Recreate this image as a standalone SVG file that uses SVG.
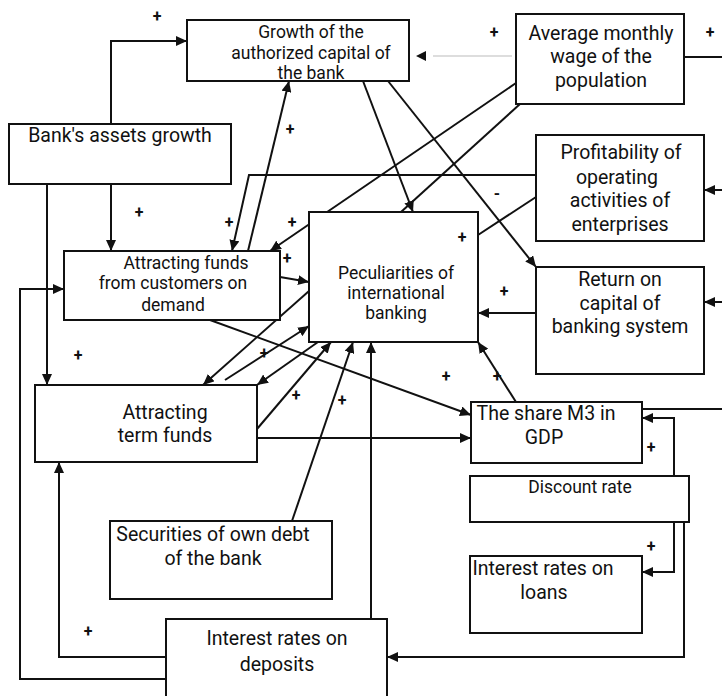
<svg xmlns="http://www.w3.org/2000/svg" width="722" height="696" viewBox="0 0 722 696">
<style>
.box{fill:#fff;stroke:#111;stroke-width:2}
.t{font-family:Roboto,"Liberation Sans",sans-serif;fill:#111;text-anchor:middle}
.l{font-size:19.5px}
.m{font-size:17.5px}
.c{fill:none;stroke:#111;stroke-width:2}
.a{marker-end:url(#ah)}
.sg{font-family:Roboto,"Liberation Sans",sans-serif;font-size:16px;font-weight:bold;fill:#111;text-anchor:middle}
</style>
<defs>
<marker id="ah" markerUnits="userSpaceOnUse" markerWidth="12" markerHeight="10" refX="11" refY="5" orient="auto">
<path d="M0,0 L11,5 L0,10 Z" fill="#111"/>
</marker>
</defs>
<rect width="722" height="696" fill="#fff"/>
<g id="connectors">
<path class="c a" d="M111,124 V41 H187"/>
<path class="c a" d="M111,184 V251"/>
<path class="c a" d="M47,184 V385"/>
<path class="c a" d="M248,251 L289,81"/>
<path class="c a" d="M536,175 H249 L232,251"/>
<path class="c a" d="M516,83 L270,251"/>
<path class="c" d="M520,104 L401,212"/>
<path class="c a" d="M363,81 L413,212"/>
<path class="c a" d="M388,81 L536,267"/>
<path class="c" d="M536,197 L478,235"/>
<path class="c a" d="M536,313 H478"/>
<path class="c a" d="M516,402 L478,342"/>
<path class="c a" d="M210,320 L471,415"/>
<path class="c a" d="M257,438 H471"/>
<path class="c a" d="M280,277 L309,282"/>
<path class="c a" d="M309,291 L203,385"/>
<path class="c a" d="M225,380 L309,326"/>
<path class="c a" d="M318,342 L257,385"/>
<path class="c a" d="M257,429 L331,342"/>
<path class="c a" d="M292,521 L353,342"/>
<path class="c a" d="M371,619 V342"/>
<path class="c a" d="M166,657 H59 V462"/>
<path class="c a" d="M166,679 H20 V289 H64"/>
<path class="c a" d="M674,476 V418 H642"/>
<path class="c a" d="M674,522 V572 H642"/>
<path class="c a" d="M684,522 V657 H387"/>
<path class="c" d="M642,409 H722"/>
<path class="c" d="M684,57 H722"/>
<path class="c a" d="M722,190 H704"/>
<path class="c a" d="M722,302 H704"/>
<path d="M433,56 H512" stroke="#bbb" stroke-width="1.2" fill="none"/>
<path d="M416,56 L426,51 L426,61 Z" fill="#111"/>
</g>
<g id="growth-capital">
<rect class="box" x="187" y="20" width="222" height="61"/>
<text class="t m" x="311" y="38">Growth of the</text>
<text class="t m" x="311" y="59">authorized capital of</text>
<text class="t m" x="311" y="79">the bank</text>
</g>
<g id="avg-wage">
<rect class="box" x="516" y="14" width="168" height="90"/>
<text class="t l" x="601" y="40">Average monthly</text>
<text class="t l" x="601" y="63">wage of the</text>
<text class="t l" x="601" y="87">population</text>
</g>
<g id="assets-growth">
<rect class="box" x="9" y="124" width="222" height="60"/>
<text class="t l" x="120" y="142">Bank's assets growth</text>
</g>
<g id="profitability">
<rect class="box" x="536" y="135" width="168" height="106"/>
<text class="t l" x="621" y="159">Profitability of</text>
<text class="t l" x="617" y="184">operating</text>
<text class="t l" x="620" y="207">activities of</text>
<text class="t l" x="620" y="231">enterprises</text>
</g>
<g id="peculiarities">
<rect class="box" x="309" y="212" width="169" height="130"/>
<text class="t m" x="396" y="279">Peculiarities of</text>
<text class="t m" x="396" y="299">international</text>
<text class="t m" x="396" y="319">banking</text>
</g>
<g id="funds-demand">
<rect class="box" x="64" y="251" width="216" height="69"/>
<text class="t m" x="186" y="269">Attracting funds</text>
<text class="t m" x="173" y="289">from customers on</text>
<text class="t m" x="173" y="311">demand</text>
</g>
<g id="return-capital">
<rect class="box" x="536" y="267" width="168" height="107"/>
<text class="t l" x="620" y="286">Return on</text>
<text class="t l" x="620" y="310">capital of</text>
<text class="t l" x="620" y="333">banking system</text>
</g>
<g id="term-funds">
<rect class="box" x="35" y="385" width="222" height="77"/>
<text class="t l" x="165" y="419">Attracting</text>
<text class="t l" x="165" y="442">term funds</text>
</g>
<g id="m3-gdp">
<rect class="box" x="471" y="402" width="171" height="61"/>
<text class="t l" x="546" y="420">The share M3 in</text>
<text class="t l" x="544" y="444">GDP</text>
</g>
<g id="discount-rate">
<rect class="box" x="470" y="476" width="219" height="46"/>
<text class="t m" x="580" y="493">Discount rate</text>
</g>
<g id="rates-loans">
<rect class="box" x="470" y="556" width="172" height="77"/>
<text class="t l" x="543" y="575">Interest rates on</text>
<text class="t l" x="544" y="599">loans</text>
</g>
<g id="securities">
<rect class="box" x="110" y="521" width="222" height="78"/>
<text class="t l" x="213" y="541">Securities of own debt</text>
<text class="t l" x="213" y="565">of the bank</text>
</g>
<g id="rates-deposits">
<rect class="box" x="166" y="619" width="221" height="90"/>
<text class="t l" x="277" y="645">Interest rates on</text>
<text class="t l" x="277" y="671">deposits</text>
</g>
<g id="signs">
<text class="sg" x="157" y="22">+</text>
<text class="sg" x="494" y="38">+</text>
<text class="sg" x="710" y="38">+</text>
<text class="sg" x="290" y="135">+</text>
<text class="sg" x="139" y="218">+</text>
<text class="sg" x="229" y="228">+</text>
<text class="sg" x="292" y="228">+</text>
<text class="sg" x="287" y="264">+</text>
<text class="sg" x="78" y="361">+</text>
<text class="sg" x="264" y="359">+</text>
<text class="sg" x="296" y="401">+</text>
<text class="sg" x="342" y="406">+</text>
<text class="sg" x="446" y="382">+</text>
<text class="sg" x="497" y="382">+</text>
<text class="sg" x="504" y="297">+</text>
<text class="sg" x="462" y="243">+</text>
<text class="sg" x="651" y="453">+</text>
<text class="sg" x="651" y="552">+</text>
<text class="sg" x="88" y="637">+</text>
<text class="sg" x="497" y="199">-</text>
</g>
</svg>
